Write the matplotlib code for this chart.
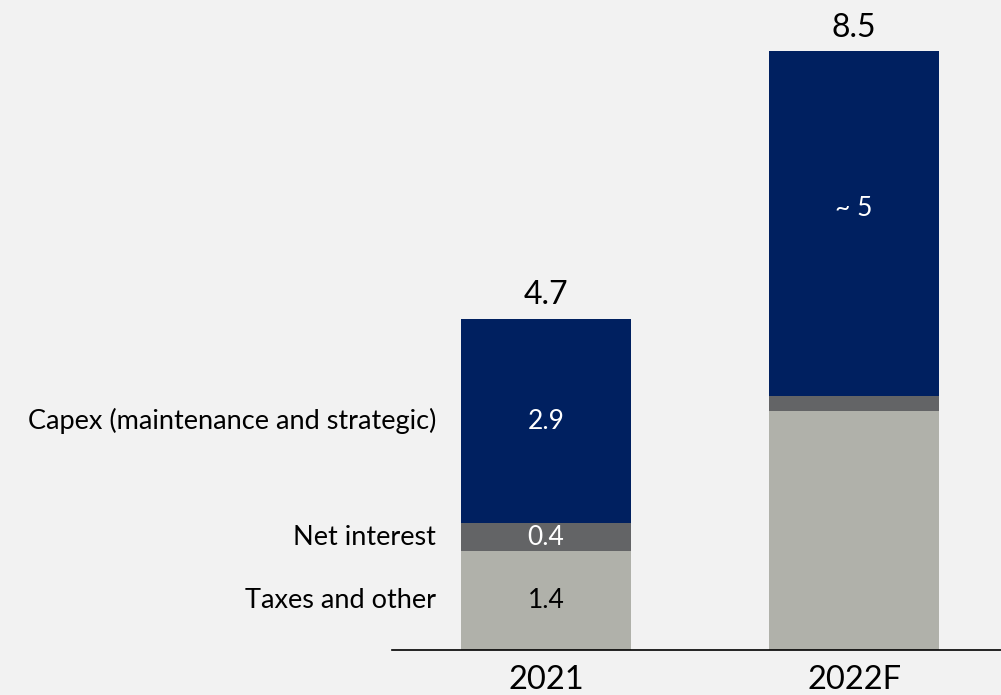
import matplotlib
matplotlib.use('Agg')
import matplotlib.pyplot as plt
import numpy as np

plt.rcParams['font.family'] = ['Lato', 'DejaVu Sans']

years = ['2021', '2022F']
segments = ['Taxes and other', 'Net interest', 'Capex (maintenance and strategic)']
taxes = [1.4, 3.4]
interest = [0.4, 0.2]
capex = [2.9, 4.9]
totals = ['4.7', '8.5']
seg_labels = [['1.4', '0.4', '2.9'], ['', '', '~ 5']]

colors = ['#b0b1aa', '#636466', '#002060']
label_colors = ['black', 'white', 'white']

fig = plt.figure(figsize=(10.01, 6.95), dpi=100)
fig.patch.set_facecolor('#f2f2f2')
ax = fig.add_axes([392/1001, 45/695, 609/1001, 650/695])
ax.set_facecolor('#f2f2f2')

x = np.arange(len(years))
w = 0.552
vals = [taxes, interest, capex]
bottom = np.zeros(len(years))
for i, v in enumerate(vals):
    ax.bar(x, v, w, bottom=bottom, color=colors[i], linewidth=0)
    for j in range(len(years)):
        if seg_labels[j][i]:
            yy = bottom[j] + v[j]/2
            if j == 1:
                yy += 0.22  # "~ 5" sits a bit above the middle
            ax.text(x[j], yy, seg_labels[j][i], ha='center', va='center',
                    color=label_colors[i], fontsize=19)
    bottom += np.array(v)

for j in range(len(years)):
    ax.text(x[j], bottom[j] + 0.21, totals[j], ha='center', va='baseline', fontsize=23)

# segment names left of the first bar
b = 0
for i, v in enumerate(vals):
    ax.text(x[0] - w/2 - 0.08, b + v[0]/2, segments[i], ha='right', va='center',
            fontsize=19.5, clip_on=False)
    b += v[0]

ax.set_xlim(-0.5, 1.477)
ax.set_ylim(0, 9.23)
for s in ['top', 'right', 'left']:
    ax.spines[s].set_visible(False)
ax.spines['bottom'].set_linewidth(1.2)
ax.set_yticks([])
ax.set_xticks(x)
ax.set_xticklabels(years, fontsize=23.5)
ax.tick_params(axis='x', length=0, pad=11)

fig.savefig('out.png', dpi=100, facecolor=fig.get_facecolor())
